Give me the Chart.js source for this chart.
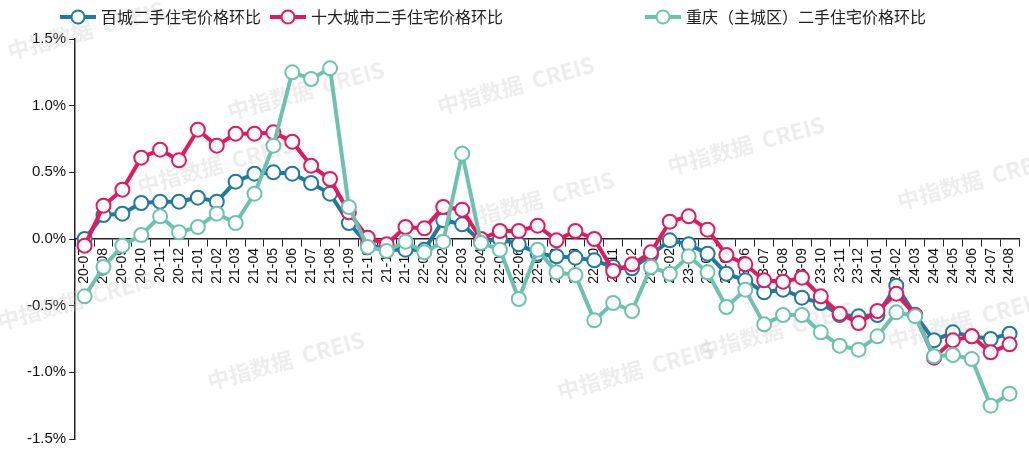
<!DOCTYPE html><html><head><meta charset="utf-8">
<script src="https://cdn.jsdelivr.net/npm/chart.js@4"></script>
<style>body{margin:0;background:#fff}#w{width:1029px;height:461px}</style></head><body><div id="w"><canvas id="c"></canvas></div>
<script>
const labels=["20-07","20-08","20-09","20-10","20-11","20-12","21-01","21-02","21-03","21-04","21-05","21-06","21-07","21-08","21-09","21-10","21-11","21-12","22-01","22-02","22-03","22-04","22-05","22-06","22-07","22-08","22-09","22-10","22-11","22-12","23-01","23-02","23-03","23-04","23-05","23-06","23-07","23-08","23-09","23-10","23-11","23-12","24-01","24-02","24-03","24-04","24-05","24-06","24-07","24-08"];
const baicheng=[0.0,0.18,0.19,0.27,0.28,0.28,0.31,0.28,0.43,0.49,0.50,0.49,0.42,0.34,0.12,-0.04,-0.08,-0.08,-0.08,0.14,0.11,-0.02,0.0,-0.04,-0.11,-0.13,-0.14,-0.16,-0.21,-0.22,-0.12,-0.01,-0.04,-0.11,-0.26,-0.31,-0.40,-0.38,-0.44,-0.48,-0.57,-0.58,-0.57,-0.35,-0.57,-0.76,-0.70,-0.73,-0.75,-0.71];
const shida=[-0.05,0.25,0.37,0.61,0.67,0.59,0.82,0.70,0.79,0.79,0.80,0.73,0.55,0.45,0.20,0.01,-0.04,0.09,0.08,0.24,0.22,0.0,0.06,0.06,0.10,-0.01,0.06,0.0,-0.24,-0.19,-0.10,0.13,0.17,0.07,-0.12,-0.19,-0.31,-0.32,-0.29,-0.43,-0.56,-0.63,-0.54,-0.41,-0.57,-0.89,-0.76,-0.73,-0.85,-0.79];
const chongqing=[-0.43,-0.21,-0.05,0.03,0.17,0.05,0.09,0.19,0.12,0.34,0.70,1.25,1.20,1.28,0.24,-0.06,-0.09,-0.02,-0.10,-0.02,0.64,-0.03,-0.08,-0.45,-0.08,-0.25,-0.27,-0.61,-0.48,-0.54,-0.21,-0.26,-0.13,-0.25,-0.51,-0.38,-0.64,-0.57,-0.57,-0.70,-0.80,-0.83,-0.73,-0.55,-0.58,-0.88,-0.87,-0.90,-1.25,-1.16];
const names=["百城二手住宅价格环比","十大城市二手住宅价格环比","重庆（主城区）二手住宅价格环比"];
const colors=["#1f7aa3","#e8175d","#6cc3ad"];
const F="'Liberation Sans', Arial, sans-serif";
function ds(i,d,o){return{label:names[i],data:d,borderColor:colors[i],backgroundColor:'#fff',borderWidth:4,pointRadius:7,pointHoverRadius:7,pointBorderWidth:2,pointBackgroundColor:'#fff',pointBorderColor:colors[i],tension:0,order:o};}
const wm={id:'wm',beforeDatasetsDraw(ch){const c=ch.ctx;c.save();c.fillStyle='rgba(190,190,190,0.28)';c.font="bold 22px 'Noto Sans CJK SC', sans-serif";
[[10,60],[440,115],[670,175],[900,210],[0,330],[140,195],[460,230],[700,360],[210,390],[560,400],[890,350],[230,120]].forEach(p=>{c.save();c.translate(p[0],p[1]);c.rotate(-0.27);c.fillText('中指数据  CREIS',0,0);c.restore();});c.restore();}};
const legendX=[60,270,645];
const lg={id:'lg',afterDraw(ch){const c=ch.ctx;c.save();c.font="16px 'Noto Sans CJK SC', sans-serif";c.textBaseline='middle';
names.forEach((n,i)=>{const x=legendX[i],y=17;c.strokeStyle=colors[i];c.lineWidth=4;c.beginPath();c.moveTo(x,y);c.lineTo(x+36,y);c.stroke();
c.fillStyle='#fff';c.lineWidth=2;c.beginPath();c.arc(x+18,y,6.5,0,Math.PI*2);c.fill();c.stroke();c.fillStyle='#222';c.fillText(n,x+41,y);});c.restore();}};
new Chart(document.getElementById('c'),{type:'line',data:{labels,datasets:[ds(0,baicheng,3),ds(1,shida,2),ds(2,chongqing,1)]},
options:{responsive:true,maintainAspectRatio:false,animation:false,layout:{padding:{top:39,right:10,left:24,bottom:22}},
plugins:{tooltip:{enabled:false},legend:{display:false}},
scales:{x:{position:{y:0},offset:true,grid:{display:true,drawOnChartArea:false,offset:true,color:'#222',tickLength:7,tickWidth:1},border:{color:'#222',width:1.5},ticks:{autoSkip:false,maxRotation:90,minRotation:90,color:'#111',font:{size:14,family:F},padding:2}},
y:{min:-1.5,max:1.5,grid:{display:true,drawOnChartArea:false,color:'#222',tickLength:6},border:{color:'#222',width:1.5},ticks:{stepSize:0.5,color:'#111',font:{size:15,family:F},callback:v=>v.toFixed(1)+'%'}}}},
plugins:[wm,lg]});
</script></body></html>
